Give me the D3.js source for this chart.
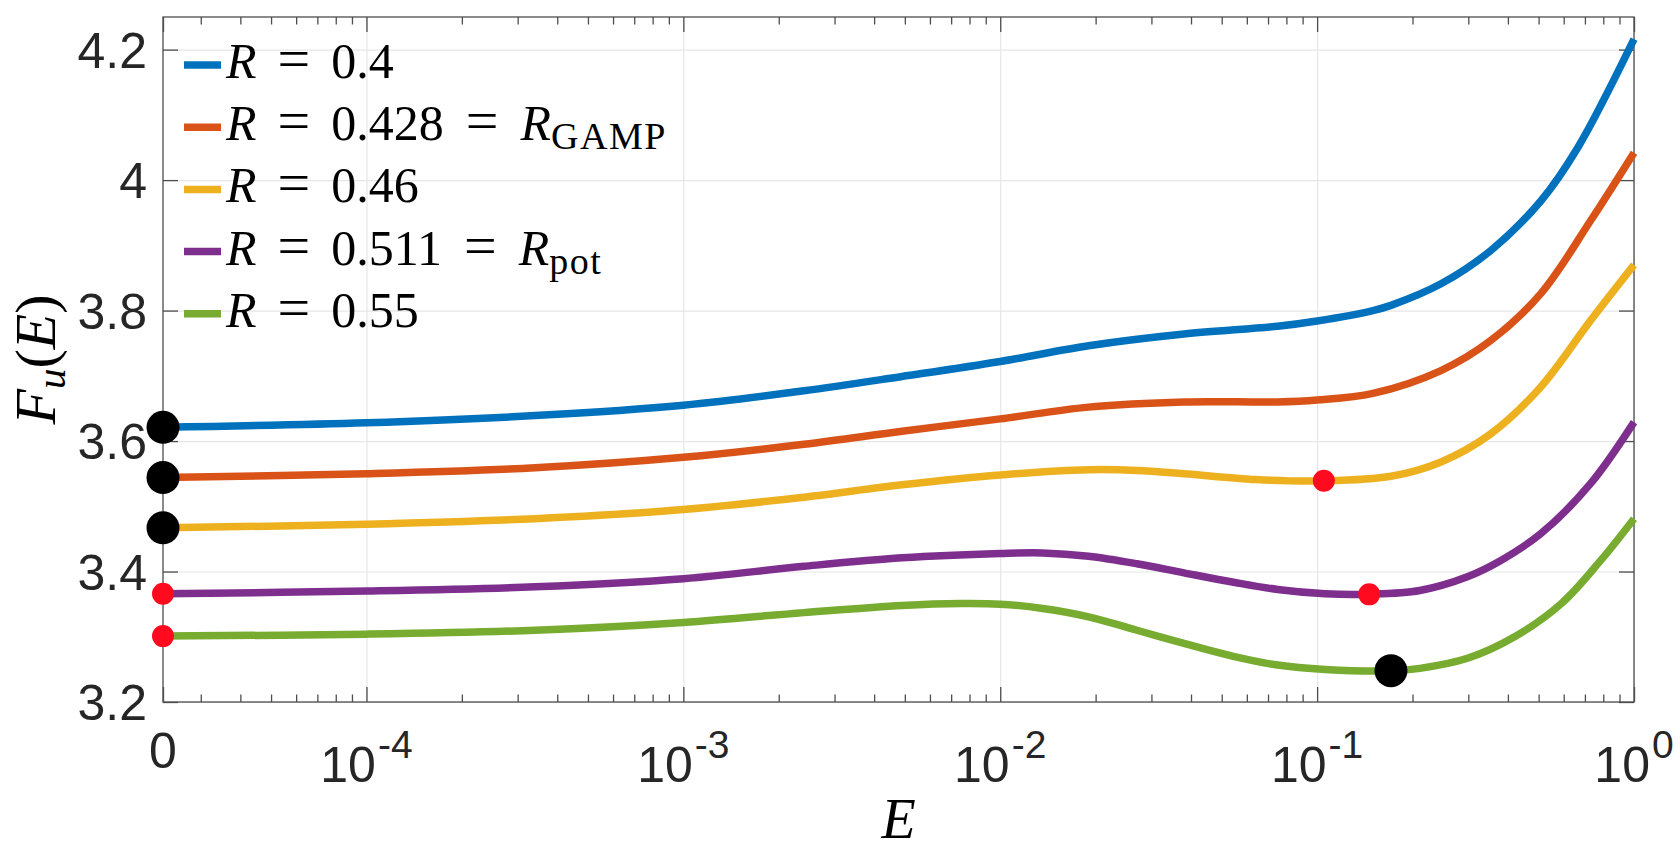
<!DOCTYPE html>
<html>
<head>
<meta charset="utf-8">
<script src="https://cdn.jsdelivr.net/npm/d3@7/dist/d3.min.js"></script>
<style>
  body { margin: 0; background: #fff; }
  .tick text { font-family: "Liberation Sans", Arial, Helvetica, sans-serif; fill: #262626; }
  .tex { font-family: "Liberation Serif", "DejaVu Serif", serif; fill: #000; }
</style>
</head>
<body>
<svg id="chart" width="1680" height="850"></svg>
<script>
// left end of the log axis, labelled "0"
var eMin = 2.28e-5;

var seriesNames = ['0.4', '0.428', '0.46', '0.511', '0.55'];
var seriesSub = [null, 'GAMP', null, 'pot', null];
var colors = ['#0072BD', '#D95319', '#EDB120', '#7E2F8E', '#77AC30'];

var E_r040 = [eMin, 1e-4, 3.4e-4, 1e-3, 2.4e-3, 4.9e-3, 0.01, 0.019, 0.038, 0.075, 0.1, 0.15, 0.171, 0.246, 0.353, 0.508, 0.665, 1];
var F_r040 = [3.621, 3.628, 3.639, 3.655, 3.677, 3.699, 3.722, 3.746, 3.764, 3.776, 3.784, 3.800, 3.808, 3.841, 3.892, 3.968, 4.050, 4.216];

var E_r0428 = [eMin, 1e-4, 3.4e-4, 1e-3, 2.4e-3, 4.9e-3, 0.01, 0.019, 0.038, 0.075, 0.1, 0.15, 0.246, 0.353, 0.508, 0.73, 1];
var F_r0428 = [3.544, 3.550, 3.559, 3.575, 3.595, 3.615, 3.634, 3.652, 3.660, 3.660, 3.663, 3.673, 3.708, 3.754, 3.826, 3.938, 4.042];

var E_r046 = [eMin, 1e-4, 3.4e-4, 1e-3, 2.4e-3, 4.9e-3, 0.01, 0.019, 0.027, 0.038, 0.064, 0.105, 0.171, 0.246, 0.353, 0.508, 0.73, 1];
var F_r046 = [3.467, 3.4725, 3.481, 3.495, 3.514, 3.533, 3.548, 3.556, 3.555, 3.550, 3.541, 3.539, 3.546, 3.568, 3.611, 3.683, 3.785, 3.870];

var E_r0511 = [eMin, 1e-4, 3.4e-4, 1e-3, 2.4e-3, 4.9e-3, 0.01, 0.0136, 0.019, 0.027, 0.038, 0.054, 0.075, 0.106, 0.146, 0.211, 0.298, 0.38, 0.508, 0.73, 1];
var F_r0511 = [3.366, 3.370, 3.3765, 3.389, 3.408, 3.421, 3.4276, 3.4285, 3.4235, 3.412, 3.398, 3.384, 3.3725, 3.366, 3.3653, 3.371, 3.392, 3.417, 3.458, 3.535, 3.629];

var E_r055 = [eMin, 1e-4, 3.4e-4, 1e-3, 2.4e-3, 4.9e-3, 0.0075, 0.01, 0.0136, 0.019, 0.027, 0.038, 0.054, 0.075, 0.106, 0.171, 0.211, 0.298, 0.42, 0.59, 0.785, 1];
var F_r055 = [3.301, 3.304, 3.310, 3.322, 3.337, 3.348, 3.351, 3.350, 3.3434, 3.3306, 3.310, 3.2898, 3.2704, 3.2566, 3.250, 3.248, 3.2516, 3.267, 3.300, 3.351, 3.417, 3.481];

var allE = [E_r040, E_r0428, E_r046, E_r0511, E_r055];
var allF = [F_r040, F_r0428, F_r046, F_r0511, F_r055];

// stable (black) and unstable (red) stationary points
var blackE = [eMin, eMin, eMin, 0.171];
var blackF = [3.621, 3.544, 3.467, 3.248];
var redE = [eMin, eMin, 0.105, 0.146];
var redF = [3.366, 3.301, 3.539, 3.365];

var yTicks = [3.2, 3.4, 3.6, 3.8, 4.0, 4.2];
var yTickLabels = ['3.2', '3.4', '3.6', '3.8', '4', '4.2'];
var xTicks = [eMin, 1e-4, 1e-3, 1e-2, 1e-1, 1];
var xTickExp = [null, '-4', '-3', '-2', '-1', '0'];

var svg = d3.select('#chart');
var pLeft = 163, pRight = 1634, pTop = 17, pBottom = 702;

var x = d3.scaleLog().domain([eMin, 1]).range([pLeft, pRight]);
var y = d3.scaleLinear().domain([3.2, 4.25]).range([pBottom, pTop]);

// minor ticks: 2..9 x 10^k that fall inside the domain
var minorTicks = [];
for (var k = -5; k < 0; k++) {
    for (var m = 2; m <= 9; m++) {
        var v = m * Math.pow(10, k);
        if (v > eMin && v < 1) minorTicks.push(v);
    }
}

// grid
svg.append('g')
    .attr('transform', 'translate(0,' + pBottom + ')')
    .call(d3.axisBottom(x).tickValues(xTicks.slice(1)).tickSize(-(pBottom - pTop)).tickFormat(''))
    .call(function (g) {
        g.select('.domain').remove();
        g.selectAll('line').attr('stroke', '#e6e6e6').attr('stroke-width', 1.2);
    });
svg.append('g')
    .attr('transform', 'translate(' + pLeft + ',0)')
    .call(d3.axisLeft(y).tickValues(yTicks).tickSize(-(pRight - pLeft)).tickFormat(''))
    .call(function (g) {
        g.select('.domain').remove();
        g.selectAll('line').attr('stroke', '#e6e6e6').attr('stroke-width', 1.2);
    });

function styleTicks(g) {
    g.select('.domain').remove();
    g.selectAll('line').attr('stroke', '#4d4d4d').attr('stroke-width', 1.3);
}

// x ticks bottom + top, major and minor, pointing inward
svg.append('g').attr('transform', 'translate(0,' + pBottom + ')')
    .call(d3.axisBottom(x).tickValues(xTicks).tickSizeInner(-15).tickSizeOuter(0).tickFormat(''))
    .call(styleTicks);
svg.append('g').attr('transform', 'translate(0,' + pBottom + ')')
    .call(d3.axisBottom(x).tickValues(minorTicks).tickSizeInner(-7.5).tickSizeOuter(0).tickFormat(''))
    .call(styleTicks);
svg.append('g').attr('transform', 'translate(0,' + pTop + ')')
    .call(d3.axisTop(x).tickValues(xTicks).tickSizeInner(-15).tickSizeOuter(0).tickFormat(''))
    .call(styleTicks);
svg.append('g').attr('transform', 'translate(0,' + pTop + ')')
    .call(d3.axisTop(x).tickValues(minorTicks).tickSizeInner(-7.5).tickSizeOuter(0).tickFormat(''))
    .call(styleTicks);

// y ticks left (with labels) + right
svg.append('g').attr('transform', 'translate(' + pLeft + ',0)')
    .call(d3.axisLeft(y).tickValues(yTicks).tickSizeInner(-15).tickSizeOuter(0).tickPadding(16)
        .tickFormat(function (d, i) { return yTickLabels[i]; }))
    .call(styleTicks)
    .call(function (g) {
        g.selectAll('text').attr('font-size', 50).attr('dy', '0.35em');
    });
svg.append('g').attr('transform', 'translate(' + pRight + ',0)')
    .call(d3.axisRight(y).tickValues(yTicks).tickSizeInner(-15).tickSizeOuter(0).tickFormat(''))
    .call(styleTicks);

// box
svg.append('rect')
    .attr('x', pLeft).attr('y', pTop)
    .attr('width', pRight - pLeft).attr('height', pBottom - pTop)
    .attr('fill', 'none').attr('stroke', '#4d4d4d').attr('stroke-width', 1.3);

// x tick labels with superscripts
var xLab = svg.append('g').selectAll('text')
    .data(xTicks)
    .join('text')
    .attr('x', function (d) { return x(d); })
    .attr('y', function (d, i) { return xTickExp[i] ? 782 : 768; })
    .attr('text-anchor', 'middle')
    .attr('font-family', '"Liberation Sans", Arial, Helvetica, sans-serif')
    .attr('font-size', 50)
    .attr('fill', '#262626');
xLab.each(function (d, i) {
    var t = d3.select(this);
    if (!xTickExp[i]) { t.text('0'); return; }
    t.append('tspan').text('10');
    t.append('tspan').attr('dy', -24).attr('dx', 2).attr('font-size', 39).text(xTickExp[i]);
});

// curves
var line = d3.line()
    .x(function (d) { return x(d[0]); })
    .y(function (d) { return y(d[1]); })
    .curve(d3.curveCatmullRom.alpha(0.5));

svg.append('g').selectAll('path')
    .data(allE.map(function (es, i) { return es.map(function (e, j) { return [e, allF[i][j]]; }); }))
    .join('path')
    .attr('d', line)
    .attr('fill', 'none')
    .attr('stroke', function (d, i) { return colors[i]; })
    .attr('stroke-width', 7.5)
    .attr('stroke-linejoin', 'round');

// markers
svg.append('g').selectAll('circle')
    .data(blackE)
    .join('circle')
    .attr('cx', function (d) { return x(d); })
    .attr('cy', function (d, i) { return y(blackF[i]); })
    .attr('r', 16.5)
    .attr('fill', '#000');
svg.append('g').selectAll('circle')
    .data(redE)
    .join('circle')
    .attr('cx', function (d) { return x(d); })
    .attr('cy', function (d, i) { return y(redF[i]); })
    .attr('r', 11)
    .attr('fill', '#ff0a1e');

// legend
var leg = svg.append('g').attr('class', 'legend');
var rows = leg.selectAll('g')
    .data(seriesNames)
    .join('g')
    .attr('transform', function (d, i) { return 'translate(184,' + (65 + i * 62.2) + ')'; });
rows.append('line')
    .attr('x1', 0).attr('x2', 37)
    .attr('stroke', function (d, i) { return colors[i]; })
    .attr('stroke-width', 7.5);
rows.append('text')
    .attr('class', 'tex')
    .attr('x', 42)
    .attr('y', 13)
    .attr('font-size', 50)
    .each(function (d, i) {
        var t = d3.select(this);
        t.append('tspan').attr('font-style', 'italic').text('R');
        t.append('tspan').attr('dx', 21).attr('font-size', 58).text('=');
        t.append('tspan').attr('dx', 21).text(d);
        if (seriesSub[i]) {
            t.append('tspan').attr('dx', 22).attr('font-size', 58).text('=');
            t.append('tspan').attr('dx', 22).attr('font-style', 'italic').text('R');
            t.append('tspan').attr('dy', 9).attr('font-size', 38).attr('letter-spacing', 1.5).text(seriesSub[i]);
        }
    });

// axis labels
svg.append('text')
    .attr('class', 'tex')
    .attr('x', (pLeft + pRight) / 2)
    .attr('y', 838)
    .attr('text-anchor', 'middle')
    .attr('font-size', 56)
    .attr('font-style', 'italic')
    .text('E');

var yl = svg.append('text')
    .attr('class', 'tex')
    .attr('transform', 'translate(55,' + ((pTop + pBottom) / 2) + ') rotate(-90)')
    .attr('text-anchor', 'middle')
    .attr('font-size', 58);
yl.append('tspan').attr('font-style', 'italic').text('F');
yl.append('tspan').attr('font-style', 'italic').attr('font-size', 41).attr('dy', 10).text('u');
yl.append('tspan').attr('dy', -10).text('(');
yl.append('tspan').attr('font-style', 'italic').text('E');
yl.append('tspan').text(')');
</script>
</body>
</html>
